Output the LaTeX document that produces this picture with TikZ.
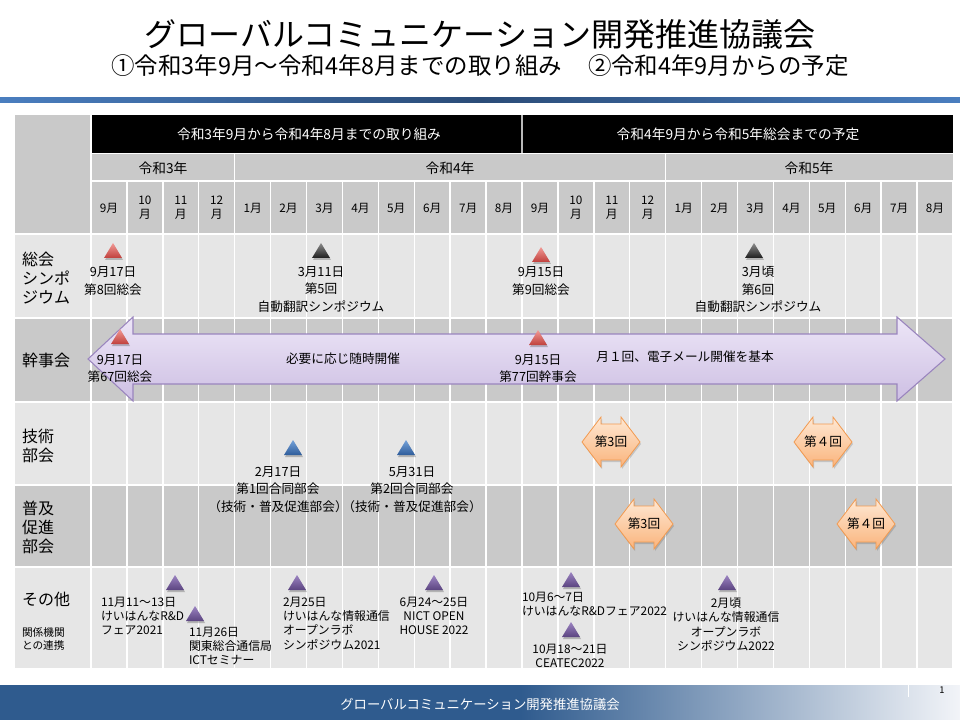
\documentclass[tikz,border=0pt]{standalone}
\usepackage{fontspec}
\setmainfont{Noto Sans CJK JP}
\definecolor{cdark}{HTML}{C9C9C9}
\definecolor{clight}{HTML}{E6E6E6}
\definecolor{lineblue}{HTML}{4A7EBF}
\definecolor{linedark}{HTML}{2B4C78}
\definecolor{footblue}{HTML}{2F5B8E}
\definecolor{footlight}{HTML}{F2F4F8}
\definecolor{arrtop}{HTML}{EDE6F7}
\definecolor{arrbot}{HTML}{CDBFE3}
\definecolor{arrborder}{HTML}{9A85BE}
\definecolor{redtop}{HTML}{F29A96}
\definecolor{redbot}{HTML}{C0403C}
\definecolor{blktop}{HTML}{8C8C8C}
\definecolor{blkbot}{HTML}{1E1E1E}
\definecolor{blutop}{HTML}{74A2DA}
\definecolor{blubot}{HTML}{2E5C9A}
\definecolor{purtop}{HTML}{9C84C2}
\definecolor{purbot}{HTML}{5B4480}
\definecolor{hextop}{HTML}{FEE8D4}
\definecolor{hexbot}{HTML}{FAB47C}
\definecolor{hexborder}{HTML}{F29A50}
\newcommand\mytri[3]{%
  \fill[black,opacity=0.22] (#1-8,#2+17) -- (#1+1,#2+2) -- (#1+10,#2+17) -- cycle;
  \shade[top color=#3top, bottom color=#3bot] (#1-9,#2+15) -- (#1,#2) -- (#1+9,#2+15) -- cycle;}
\newcommand\hexarr[4]{%
  \fill[black,opacity=0.15] (#2-28,#3+2) -- (#2-9,#3-23) -- (#2-9,#3-16) -- (#2+11,#3-16) -- (#2+11,#3-23) -- (#2+30,#3+2) -- (#2+11,#3+27) -- (#2+11,#3+20) -- (#2-9,#3+20) -- (#2-9,#3+27) -- cycle;
  \shade[draw=hexborder, line width=0.6pt, top color=hextop, bottom color=hexbot] (#2-29,#3) -- (#2-10,#3-25) -- (#2-10,#3-18) -- (#2+10,#3-18) -- (#2+10,#3-25) -- (#2+29,#3) -- (#2+10,#3+25) -- (#2+10,#3+18) -- (#2-10,#3+18) -- (#2-10,#3+25) -- cycle;
  \node[hexlbl] (#1) at (#2,#3) {#4};}
\begin{document}
\begin{tikzpicture}[x=0.75pt,y=-0.75pt,
  every node/.style={inner sep=0pt, outer sep=0pt},
  rowlbl/.style={anchor=west, align=left, font=\fontsize{12}{14.3}\selectfont},
  sublbl/.style={anchor=west, align=left, font=\fontsize{8}{9.8}\selectfont},
  hdr/.style={text=white, font=\fontsize{10.3}{12}\selectfont},
  yr/.style={font=\fontsize{10.3}{12}\selectfont},
  mon/.style={font=\fontsize{8.8}{10.5}\selectfont, align=center},
  ev/.style={font=\fontsize{9.5}{13.1}\selectfont, align=center},
  evs/.style={font=\fontsize{8.9}{10.6}\selectfont, align=center},
  evl/.style={font=\fontsize{8.9}{10.6}\selectfont, align=left, anchor=west},
  hexlbl/.style={font=\fontsize{9.5}{12}\selectfont},
]
\useasboundingbox (0,0) rectangle (960,720);
% title
\node[font=\fontsize{24}{28}\selectfont] (title) at (480,34) {グローバルコミュニケーション開発推進協議会};
\node[font=\fontsize{17.6}{22}\selectfont] (subtitle) at (480,66) {①令和3年9月～令和4年8月までの取り組み\hspace{1.1em}②令和4年9月からの予定};
\shade[left color=lineblue, right color=lineblue, middle color=linedark] (0,98) rectangle (960,102.5);
% table backgrounds
\fill[cdark] (15,115) rectangle (91,234);
\fill[black] (91,115) rectangle (953,153);
\fill[cdark] (91,153) rectangle (953,234);
\fill[clight] (15,234) rectangle (953,318);
\fill[cdark] (15,318) rectangle (953,402);
\fill[clight] (15,402) rectangle (953,485);
\fill[cdark] (15,485) rectangle (953,567);
\fill[clight] (15,567) rectangle (953,668);
\begin{scope}[white, line width=1.1pt]
  \draw (91,153.5) -- (953,153.5);
  \draw (91,181) -- (953,181);
  \foreach \yy in {234,318,402,485,567} \draw (15,\yy) -- (953,\yy);
  \foreach \i in {0,...,24} \draw ({91+35.917*\i},181) -- ({91+35.917*\i},668);
  \draw (91,115) -- (91,181);
  \draw (234.7,153) -- (234.7,181);
  \draw (665.7,153) -- (665.7,181);
\end{scope}
\draw[gray!55, line width=0.8pt] (522,115) -- (522,153);
% header texts
\node[hdr] (h1) at (309,134) {令和3年9月から令和4年8月までの取り組み};
\node[hdr] (h2) at (738,134) {令和4年9月から令和5年総会までの予定};
\node[yr] (y3) at (163,168) {令和3年};
\node[yr] (y4) at (450,168) {令和4年};
\node[yr] (y5) at (809,168) {令和5年};
\foreach \i/\m in {0/9,4/1,5/2,6/3,7/4,8/5,9/6,10/7,11/8,12/9,16/1,17/2,18/3,19/4,20/5,21/6,22/7,23/8}
  \node[mon] (m\i) at ({91+35.917*(\i+0.5)},208) {\m 月};
\foreach \i/\m in {1/10,2/11,3/12,13/10,14/11,15/12}
  \node[mon] (m\i) at ({91+35.917*(\i+0.5)},208) {\m\\月};
% row labels
\node[rowlbl] (l1) at (22,278) {総会\\シンポ\\ジウム};
\node[rowlbl] (l2) at (22,360) {幹事会};
\node[rowlbl] (l3) at (22,446) {技術\\部会};
\node[rowlbl] (l4) at (22,527.5) {普及\\促進\\部会};
\node[rowlbl] (l5) at (22,599) {その他};
\node[sublbl] (l6) at (22,638.5) {関係機関\\との連携};
% kanjikai arrow
\shade[draw=arrborder, line width=0.8pt, top color=arrtop, bottom color=arrbot]
  (88,359) -- (133,317) -- (133,334) -- (897,334) -- (897,317) -- (945,359)
  -- (897,401) -- (897,384) -- (133,384) -- (133,401) -- cycle;
% triangles
\mytri{113}{243}{red}
\mytri{321}{243}{blk}
\mytri{541}{247}{red}
\mytri{754}{243}{blk}
\mytri{120}{329}{red}
\mytri{538}{330}{red}
\mytri{293}{440}{blu}
\mytri{406}{440}{blu}
\mytri{175}{575}{pur}
\mytri{195}{606}{pur}
\mytri{297}{575}{pur}
\mytri{434}{575}{pur}
\mytri{571}{572}{pur}
\mytri{571}{622}{pur}
\mytri{727}{575}{pur}
% hexagonal double arrows
\hexarr{g3a}{611}{442}{第3回}
\hexarr{g4a}{823}{442}{第４回}
\hexarr{f3a}{644}{524}{第3回}
\hexarr{f4a}{866}{524}{第４回}
% event texts
\node[ev] (e1) at (113,281) {9月17日\\第8回総会};
\node[ev] (e2) at (321,289.5) {3月11日\\第5回\\自動翻訳シンポジウム};
\node[ev] (e3) at (541,281) {9月15日\\第9回総会};
\node[ev] (e4) at (758,289.5) {3月頃\\第6回\\自動翻訳シンポジウム};
\node[ev] (k1) at (120,368.5) {9月17日\\第67回総会};
\node[ev] (k2) at (343,359) {必要に応じ随時開催};
\node[ev] (k3) at (538,368.5) {9月15日\\第77回幹事会};
\node[ev] (k4) at (685,357) {月１回、電子メール開催を基本};
\node[ev] (b1) at (278,489.5) {2月17日\\第1回合同部会\\（技術・普及促進部会）};
\node[ev] (b2) at (412,489.5) {5月31日\\第2回合同部会\\（技術・普及促進部会）};
\node[evl] (o1) at (101,616) {11月11～13日\\けいはんなR\&D\\フェア2021};
\node[evl] (o2) at (189,646) {11月26日\\関東総合通信局\\ICTセミナー};
\node[evl] (o3) at (283,623.5) {2月25日\\けいはんな情報通信\\オープンラボ\\シンポジウム2021};
\node[evs] (o4) at (434,616) {6月24～25日\\NICT OPEN\\HOUSE 2022};
\node[evl] (o5) at (522,604) {10月6～7日\\けいはんなR\&Dフェア2022};
\node[evs] (o6) at (570,656) {10月18～21日\\CEATEC2022};
\node[evs] (o7) at (726,624.5) {2月頃\\けいはんな情報通信\\オープンラボ\\シンポジウム2022};
% footer
\fill[footblue] (0,685) rectangle (520,720);
\shade[left color=footblue, right color=footlight] (520,685) rectangle (960,720);
\draw[white, line width=0.6pt] (908,685) -- (908,697);
\node[text=white, font=\fontsize{10}{12}\selectfont] (foot) at (480,704) {グローバルコミュニケーション開発推進協議会};
\node[font=\fontsize{7}{8}\selectfont] (pg) at (942,690) {1};
\end{tikzpicture}
\end{document}
